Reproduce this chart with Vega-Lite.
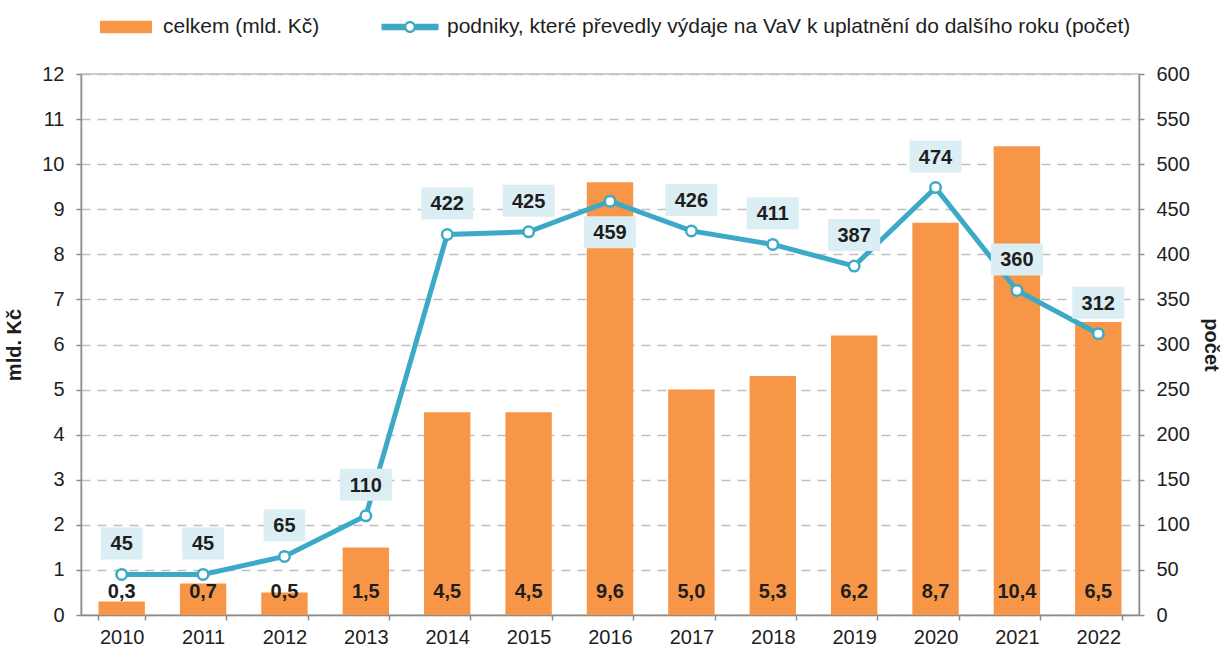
{
  "$schema": "https://vega.github.io/schema/vega-lite/v6.json",
  "width": 1058,
  "height": 541,
  "autosize": "none",
  "padding": {"left": 81, "top": 74, "right": 87, "bottom": 35},
  "background": "white",
  "config": {
    "font": "Liberation Sans",
    "locale": {"number": {"decimal": ",", "thousands": " ", "grouping": [3], "currency": ["", " Kč"]}},
    "view": {"stroke": "#BFBFBF", "strokeWidth": 1.5},
    "axis": {
      "labelFont": "Liberation Sans",
      "labelFontSize": 20,
      "labelColor": "#1e1e1e",
      "titleFont": "Liberation Sans",
      "titleFontSize": 20,
      "titleFontWeight": "bold",
      "titleColor": "#1e1e1e",
      "domainColor": "#8C8C8C",
      "domainWidth": 1.5,
      "tickColor": "#8C8C8C",
      "tickWidth": 1.5,
      "tickSize": 5
    }
  },
  "data": {
    "values": [
      {"rok": "2010", "celkem": 0.3, "pocet": 45},
      {"rok": "2011", "celkem": 0.7, "pocet": 45},
      {"rok": "2012", "celkem": 0.5, "pocet": 65},
      {"rok": "2013", "celkem": 1.5, "pocet": 110},
      {"rok": "2014", "celkem": 4.5, "pocet": 422},
      {"rok": "2015", "celkem": 4.5, "pocet": 425},
      {"rok": "2016", "celkem": 9.6, "pocet": 459},
      {"rok": "2017", "celkem": 5.0, "pocet": 426},
      {"rok": "2018", "celkem": 5.3, "pocet": 411},
      {"rok": "2019", "celkem": 6.2, "pocet": 387},
      {"rok": "2020", "celkem": 8.7, "pocet": 474},
      {"rok": "2021", "celkem": 10.4, "pocet": 360},
      {"rok": "2022", "celkem": 6.5, "pocet": 312}
    ]
  },
  "encoding": {
    "x": {
      "field": "rok",
      "type": "ordinal",
      "scale": {"paddingInner": 0.43, "paddingOuter": 0.215},
      "axis": {"title": null, "labelAngle": 0, "tickBand": "extent", "grid": false, "labelPadding": 7}
    }
  },
  "layer": [
    {
      "layer": [
        {
          "mark": {"type": "bar", "opacity": 1},
          "encoding": {
            "y": {
              "field": "celkem",
              "type": "quantitative",
              "scale": {"domain": [0, 12], "nice": false},
              "axis": {
                "title": "mld. Kč",
                "values": [0, 1, 2, 3, 4, 5, 6, 7, 8, 9, 10, 11, 12],
                "grid": true,
                "gridDash": [9, 7],
                "gridColor": "#BFBFBF",
                "gridWidth": 1.5,
                "labelPadding": 12,
                "titlePadding": 17
              }
            },
            "color": {
              "datum": "celkem (mld. Kč)",
              "type": "nominal",
              "scale": {
                "domain": ["celkem (mld. Kč)", "podniky, které převedly výdaje na VaV k uplatnění do dalšího roku (počet)"],
                "range": ["#F79646", "#3CA9C6"]
              },
              "legend": {
                "orient": "none",
                "legendX": 15,
                "legendY": -77,
                "direction": "horizontal",
                "columns": 2,
                "title": null,
                "symbolSize": 3600,
                "symbolStrokeWidth": 0,
                "symbolOpacity": 1,
                "symbolType": {"expr": "datum.value === 'celkem (mld. Kč)' ? 'M-0.867,-0.21H0.867V0.21H-0.867Z' : 'M-0.95,-0.105H-0.18V0.105H-0.95Z M0.18,-0.105H0.95V0.105H0.18Z M0.2,0A0.2,0.2 0 1,1 -0.2,0A0.2,0.2 0 1,1 0.2,0Z M0.123,0A0.123,0.123 0 1,0 -0.123,0A0.123,0.123 0 1,0 0.123,0Z'"},
                "labelFontSize": 21,
                "labelFont": "Liberation Sans",
                "labelColor": "#1e1e1e",
                "labelOffset": 7,
                "labelLimit": 900,
                "columnPadding": 60
              }
            }
          }
        },
        {
          "mark": {"type": "text", "fontSize": 20, "fontWeight": "bold", "color": "#1e1e1e", "baseline": "middle", "dy": -23},
          "encoding": {
            "y": {"datum": 0, "type": "quantitative"},
            "text": {"field": "celkem", "type": "quantitative", "format": ".1f"}
          }
        }
      ]
    },
    {
      "layer": [
        {
          "mark": {"type": "line", "strokeWidth": 5},
          "encoding": {
            "y": {
              "field": "pocet",
              "type": "quantitative",
              "scale": {"domain": [0, 600], "nice": false},
              "axis": {
                "orient": "right",
                "title": "počet",
                "values": [0, 50, 100, 150, 200, 250, 300, 350, 400, 450, 500, 550, 600],
                "grid": false,
                "labelPadding": 12,
                "titlePadding": 11
              }
            },
            "color": {"datum": "podniky, které převedly výdaje na VaV k uplatnění do dalšího roku (počet)", "type": "nominal"}
          }
        },
        {
          "mark": {"type": "point", "filled": true, "fill": "white", "stroke": "#3CA9C6", "strokeWidth": 2.5, "size": 110, "opacity": 1},
          "encoding": {"y": {"field": "pocet", "type": "quantitative"}}
        },
        {
          "transform": [{"filter": "datum.rok !== '2016'"}],
          "mark": {"type": "point", "filled": true, "fill": "#DAEEF3", "size": 2704, "strokeWidth": 0, "opacity": 1, "yOffset": -31},
          "encoding": {
            "y": {"field": "pocet", "type": "quantitative"},
            "shape": {"condition": {"test": "datum.pocet < 100", "value": "M-0.8,-0.615H0.8V0.615H-0.8Z"}, "value": "M-1,-0.615H1V0.615H-1Z"}
          }
        },
        {
          "transform": [{"filter": "datum.rok === '2016'"}],
          "mark": {"type": "point", "filled": true, "fill": "#DAEEF3", "size": 2704, "strokeWidth": 0, "opacity": 1, "yOffset": 31, "shape": "M-1,-0.615H1V0.615H-1Z"},
          "encoding": {
            "y": {"field": "pocet", "type": "quantitative"}
          }
        },
        {
          "transform": [{"filter": "datum.rok !== '2016'"}],
          "mark": {"type": "text", "fontSize": 20, "fontWeight": "bold", "color": "#1e1e1e", "baseline": "middle", "yOffset": -30},
          "encoding": {
            "y": {"field": "pocet", "type": "quantitative"},
            "text": {"field": "pocet", "type": "quantitative"}
          }
        },
        {
          "transform": [{"filter": "datum.rok === '2016'"}],
          "mark": {"type": "text", "fontSize": 20, "fontWeight": "bold", "color": "#1e1e1e", "baseline": "middle", "yOffset": 32},
          "encoding": {
            "y": {"field": "pocet", "type": "quantitative"},
            "text": {"field": "pocet", "type": "quantitative"}
          }
        }
      ]
    }
  ],
  "resolve": {"scale": {"y": "independent"}}
}
